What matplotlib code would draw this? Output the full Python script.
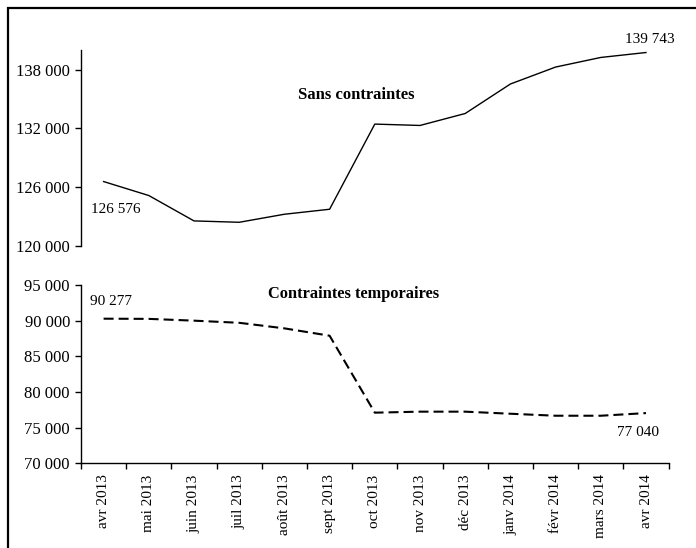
import matplotlib
matplotlib.use("Agg")
import matplotlib.pyplot as plt
from matplotlib.patches import Rectangle
from matplotlib.ticker import FuncFormatter, FixedLocator

plt.rcParams['font.family'] = ['Liberation Serif', 'DejaVu Serif']

months = ["avr 2013", "mai 2013", "juin 2013", "juil 2013", "août 2013", "sept 2013",
          "oct 2013", "nov 2013", "déc 2013", "janv 2014", "févr 2014", "mars 2014", "avr 2014"]
sans_contraintes = [126576, 125150, 122560, 122420, 123240, 123750,
                    132440, 132300, 133520, 136530, 138260, 139240, 139743]
contraintes_temp = [90277, 90250, 90000, 89700, 88920, 87890,
                    77100, 77240, 77240, 76950, 76670, 76670, 77040]
top_ticks = [120000, 126000, 132000, 138000]
bottom_ticks = [70000, 75000, 80000, 85000, 90000, 95000]

fmt = FuncFormatter(lambda v, p: f"{int(v):,}".replace(",", " "))

fig = plt.figure(figsize=(6.96, 5.48), dpi=100)
W, H = 696, 548

def ax_rect(x0, y0, x1, y1):
    return [x0 / W, 1 - y1 / H, (x1 - x0) / W, (y1 - y0) / H]

ax1 = fig.add_axes(ax_rect(81, 50, 668.6, 246))
ax2 = fig.add_axes(ax_rect(81, 285, 668.6, 463.3))

xs = [i + 0.5 for i in range(len(months))]

# Top panel
ax1.plot(xs, sans_contraintes, color='black', lw=1.0)
ax1.set_xlim(0, len(months))
ax1.set_ylim(120000, 140000)
ax1.yaxis.set_major_locator(FixedLocator(top_ticks))
ax1.yaxis.set_major_formatter(fmt)
for s in ['top', 'right', 'bottom']:
    ax1.spines[s].set_visible(False)
ax1.spines['left'].set_linewidth(1.0)
ax1.set_xticks([])
ax1.tick_params(axis='y', direction='out', length=4, width=1.0, labelsize=12, pad=4)
ax1.annotate(f"{sans_contraintes[0]:,}".replace(",", " "), (xs[0], sans_contraintes[0]),
             xytext=(-9, -15.5), textcoords='offset points', ha='left', va='top', fontsize=11)
ax1.annotate(f"{sans_contraintes[-1]:,}".replace(",", " "), (xs[-1], sans_contraintes[-1]),
             xytext=(-15, 5), textcoords='offset points', ha='left', va='bottom', fontsize=11)
ax1.text(6.1, 135430, "Sans contraintes", ha='center', va='center', fontsize=12, fontweight='bold')

# Bottom panel
ax2.plot(xs, contraintes_temp, color='black', lw=1.5, dashes=(4.8, 2.4))
ax2.set_xlim(0, len(months))
ax2.set_ylim(70000, 95000)
ax2.yaxis.set_major_locator(FixedLocator(bottom_ticks))
ax2.yaxis.set_major_formatter(fmt)
for s in ['top', 'right']:
    ax2.spines[s].set_visible(False)
ax2.spines['left'].set_linewidth(1.0)
ax2.spines['bottom'].set_linewidth(1.0)
ax2.set_xticks(range(len(months) + 1))
ax2.set_xticklabels([])
ax2.set_xticks(xs, minor=True)
ax2.set_xticklabels(months, minor=True, rotation=90, fontsize=11)
ax2.tick_params(axis='x', which='major', direction='out', length=4, width=1.0)
ax2.tick_params(axis='x', which='minor', length=0, pad=8)
ax2.tick_params(axis='y', direction='out', length=4, width=1.0, labelsize=12, pad=4)
ax2.annotate(f"{contraintes_temp[0]:,}".replace(",", " "), (xs[0], contraintes_temp[0]),
             xytext=(-10, 8), textcoords='offset points', ha='left', va='bottom', fontsize=11)
ax2.annotate(f"{contraintes_temp[-1]:,}".replace(",", " "), (xs[-1], contraintes_temp[-1]),
             xytext=(-21, -9), textcoords='offset points', ha='left', va='top', fontsize=11)
ax2.text(6.04, 93735, "Contraintes temporaires", ha='center', va='center', fontsize=11.8, fontweight='bold')

# Outer frame (extends beyond right and bottom edges)
fig.patches.append(Rectangle((8 / W, -0.05), 1.1, 1 - 8 / H + 0.05, transform=fig.transFigure,
                             fill=False, edgecolor='black', lw=1.6))

fig.savefig("out.png", dpi=100)
